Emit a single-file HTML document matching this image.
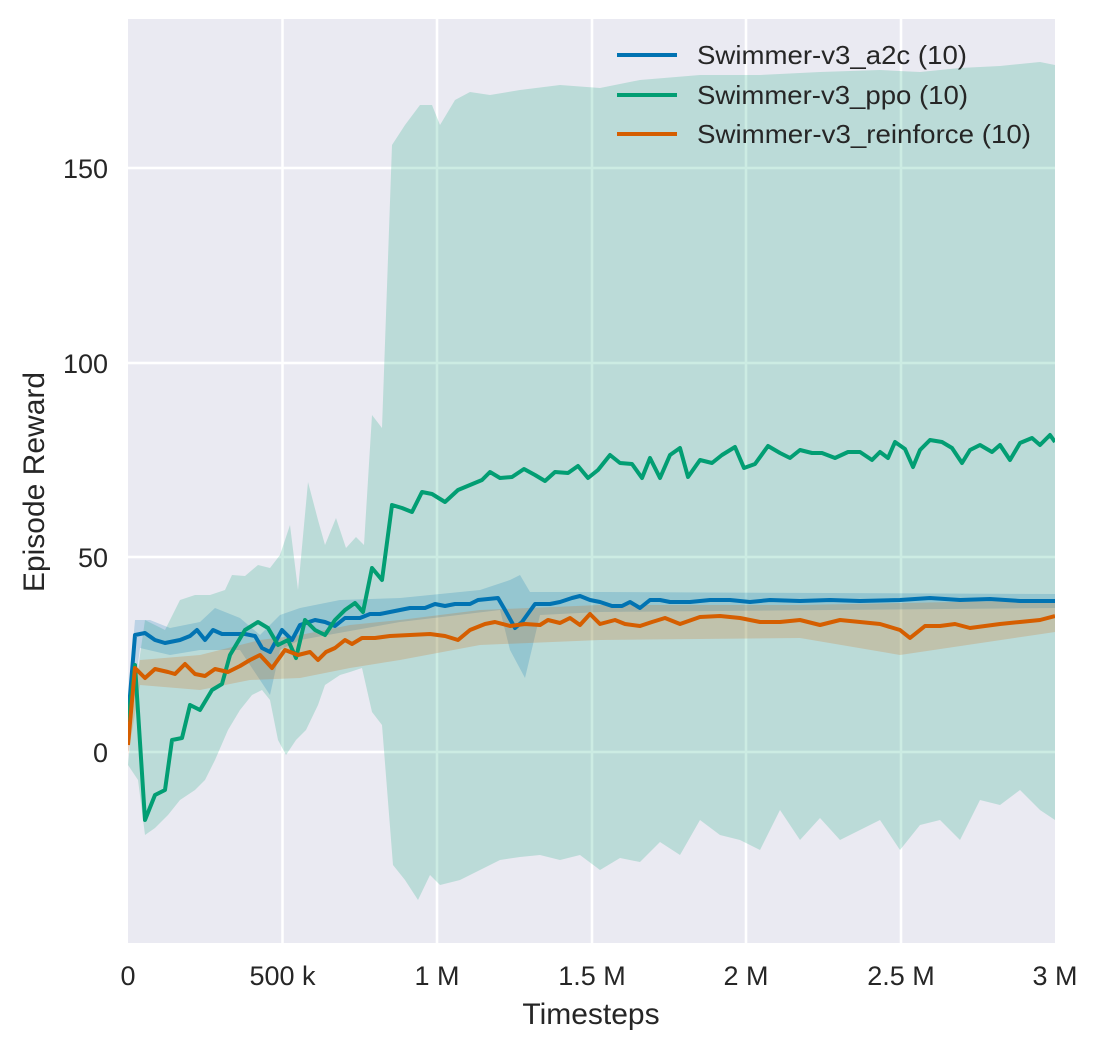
<!DOCTYPE html>
<html><head><meta charset="utf-8"><style>html,body{margin:0;background:#fff}svg{display:block}text{font-family:"Liberation Sans",sans-serif;fill:#262626}</style></head>
<body>
<svg width="1099" height="1049" viewBox="0 0 1099 1049" xmlns="http://www.w3.org/2000/svg">
<rect x="128" y="19" width="927" height="924" fill="#eaeaf2"/>
<g stroke="#fff" stroke-width="2.5">
<line x1="282.5" y1="19" x2="282.5" y2="943"/><line x1="437" y1="19" x2="437" y2="943"/><line x1="592" y1="19" x2="592" y2="943"/><line x1="746" y1="19" x2="746" y2="943"/><line x1="901" y1="19" x2="901" y2="943"/>
<line x1="128" y1="752" x2="1055" y2="752"/><line x1="128" y1="557" x2="1055" y2="557"/><line x1="128" y1="363" x2="1055" y2="363"/><line x1="128" y1="168" x2="1055" y2="168"/>
</g>
<clipPath id="c"><rect x="128" y="19" width="927" height="924"/></clipPath>
<g clip-path="url(#c)">
<polygon fill="#029e73" fill-opacity="0.2" points="128,765 135,690 145,620 165,630 180,600 195,595 210,595 225,590 232,575 245,576 258,565 270,568 280,555 290,525 298,590 308,482 318,520 325,545 336,518 346,548 356,537 364,545 372,415 382,428 392,145 405,125 420,105 432,105 440,125 455,100 470,92 490,95 520,90 560,85 600,88 640,80 700,75 760,75 820,72 880,70 920,72 960,68 1000,66 1040,62 1055,65 1055,820 1040,810 1020,790 1000,805 980,800 960,840 940,820 920,825 900,850 880,820 860,830 840,840 820,818 800,840 780,810 760,850 740,840 720,835 700,820 680,855 660,842 640,862 620,858 600,870 580,855 560,860 540,855 520,857 500,860 480,870 460,880 440,885 430,875 418,900 405,880 393,865 382,725 372,712 362,668 350,672 340,675 325,685 318,705 306,730 296,740 286,755 278,740 270,700 262,690 252,695 240,710 228,730 215,760 205,780 195,790 180,800 168,815 155,828 145,835 138,780"/>
<polygon fill="#0173b2" fill-opacity="0.2" points="128,700 135,620 150,620 170,628 200,622 215,608 240,618 260,635 280,615 300,608 340,600 400,598 480,590 510,580 520,575 530,592 600,592 1055,594 1055,608 600,612 540,615 525,678 510,650 500,610 400,622 300,640 280,650 270,695 260,680 240,650 200,650 170,655 140,648 128,740"/>
<polygon fill="#d55e00" fill-opacity="0.2" points="128,735 140,660 200,655 260,640 300,635 350,625 400,620 480,610 600,605 800,605 1055,600 1055,632 900,655 800,638 600,640 480,645 400,660 350,668 300,678 250,680 200,690 140,685 128,755"/>
<g fill="none" stroke-width="4" stroke-linejoin="round">
<polyline stroke="#0173b2" points="128,720 135,635 145,633 155,640 165,643 180,640 190,636 197,630 205,640 213,630 222,634 232,634 245,634 255,636 262,648 270,652 282,630 292,640 300,625 315,620 325,622 335,626 345,618 360,618 370,614 380,614 390,612 400,610 410,608 425,608 435,604 445,606 455,604 470,604 478,600 498,598 505,610 515,628 522,622 535,604 550,604 560,602 572,598 580,596 590,600 600,602 612,606 622,606 630,602 640,608 650,600 660,600 670,602 690,602 710,600 730,600 750,602 770,600 800,601 830,600 860,601 900,600 930,598 960,600 990,599 1020,601 1055,601"/>
<polyline stroke="#029e73" points="128,722 135,665 145,820 155,795 165,790 172,740 182,738 190,705 200,710 212,690 222,684 230,655 245,630 258,622 268,628 278,645 288,640 296,658 305,620 315,630 325,635 335,620 345,610 355,603 363,612 372,568 382,580 392,505 402,508 412,512 422,492 432,494 445,502 458,490 470,485 482,480 490,472 500,478 512,477 524,469 535,475 545,481 555,472 568,473 578,466 588,478 598,470 610,455 620,463 632,464 642,478 650,458 660,478 670,455 680,448 688,477 700,460 712,463 722,455 735,447 744,468 755,464 768,446 780,453 790,458 800,450 812,453 822,453 835,458 848,452 860,452 872,460 880,452 888,458 895,442 905,449 913,467 920,450 930,440 942,442 952,448 962,463 970,450 980,445 992,452 1000,445 1010,460 1020,443 1032,438 1040,445 1050,435 1055,442"/>
<polyline stroke="#d55e00" points="128,745 135,668 145,678 155,669 168,672 175,674 185,664 195,674 205,676 215,669 228,672 240,666 250,660 260,655 272,668 285,650 298,655 310,652 318,660 326,652 335,648 345,640 352,644 362,638 375,638 390,636 410,635 430,634 445,636 458,640 470,630 485,624 495,622 510,626 525,624 540,625 548,620 560,623 570,618 580,625 590,614 600,624 615,620 625,624 640,626 652,622 665,618 680,624 700,617 720,616 740,618 760,622 780,622 800,620 820,625 840,620 860,622 880,624 900,630 910,638 925,626 940,626 955,624 970,628 985,626 1000,624 1020,622 1040,620 1055,616"/>
</g>
</g>
<g font-size="27" text-anchor="end">
<text x="108" y="762">0</text><text x="108" y="567">50</text><text x="108" y="373">100</text><text x="108" y="178">150</text>
</g>
<g font-size="27" text-anchor="middle">
<text x="128" y="985">0</text><text x="282.5" y="985">500 k</text><text x="437" y="985">1 M</text><text x="592" y="985">1.5 M</text><text x="746" y="985">2 M</text><text x="901" y="985">2.5 M</text><text x="1055" y="985">3 M</text>
</g>
<text x="591" y="1024" font-size="30" text-anchor="middle">Timesteps</text>
<text transform="translate(44,482) rotate(-90)" font-size="30" text-anchor="middle">Episode Reward</text>
<g stroke-width="4">
<line x1="617" y1="55" x2="677" y2="55" stroke="#0173b2"/>
<line x1="617" y1="95" x2="677" y2="95" stroke="#029e73"/>
<line x1="617" y1="134" x2="677" y2="134" stroke="#d55e00"/>
</g>
<g font-size="26">
<text x="697" y="64" textLength="270" lengthAdjust="spacingAndGlyphs">Swimmer-v3_a2c (10)</text>
<text x="697" y="104" textLength="271" lengthAdjust="spacingAndGlyphs">Swimmer-v3_ppo (10)</text>
<text x="697" y="143" textLength="334" lengthAdjust="spacingAndGlyphs">Swimmer-v3_reinforce (10)</text>
</g>
</svg>
</body></html>
